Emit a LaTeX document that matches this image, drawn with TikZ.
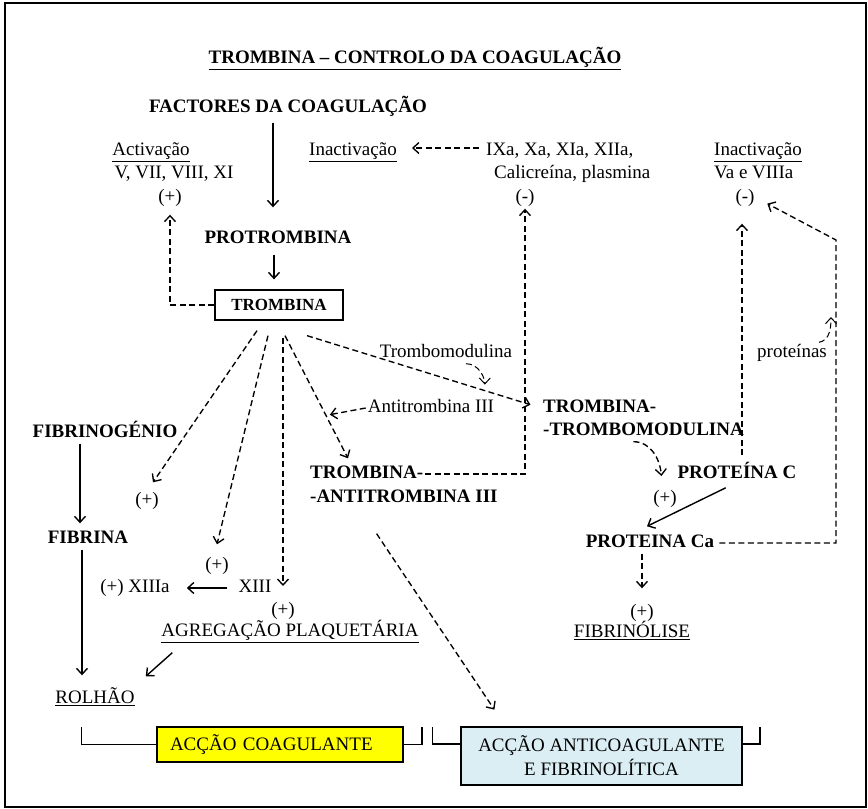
\documentclass[tikz,border=0pt]{standalone}
\usepackage{fontspec}
\setmainfont{Liberation Serif}
\usetikzlibrary{arrows.meta}

\definecolor{coagyel}{RGB}{255,255,0}
\definecolor{antiblue}{RGB}{218,238,243}
\newcommand{\fsz}{\fontsize{19pt}{23pt}\selectfont}

\tikzset{
  txt/.style={inner sep=2pt, text height=13pt, text depth=4pt, font=\fsz},
  hd/.style={txt, font=\fsz\bfseries},
  dline/.style={->, dash pattern=on 6pt off 3.5pt, line width=1.35pt},
  sline/.style={->, line width=1.4pt},
  actbox/.style={draw, line width=1.4pt, inner ysep=0pt, font=\fsz},
}

\begin{document}
\begin{tikzpicture}[x=1pt, y=-1pt, >={Straight Barb[length=6pt,width=11pt]}]
\useasboundingbox (0,0) rectangle (868,809);
\draw[line width=1.2pt] (5,3) rectangle (866,807);

% topo
\node[hd] (title) at (415,59) {\underline{TROMBINA – CONTROLO DA COAGULAÇÃO}};
\node[hd] (fact) at (288,108) {FACTORES DA COAGULAÇÃO};

\node[txt] (actl) at (151,151) {\underline{Activação}};
\node[txt] (actv) at (174,174) {V, VII, VIII, XI};
\node[txt] (actp) at (170,198) {(+)};

\node[txt] (inact1) at (353,151) {\underline{Inactivação}};
\node[txt, anchor=west] (ixa) at (484,151) {IXa, Xa, XIa, XIIa,};
\node[txt, anchor=west] (calic) at (492,174) {Calicreína, plasmina};
\node[txt] (minus1) at (525,198) {(-)};

\node[txt, anchor=west] (inact2) at (712,151) {\underline{Inactivação}};
\node[txt, anchor=west] (vaviii) at (712,174) {Va e VIIIa};
\node[txt] (minus2) at (745,198) {(-)};

\node[hd] (protromb) at (278,239) {PROTROMBINA};
\node[draw, line width=1.3pt, minimum width=128pt, minimum height=30pt, inner sep=0pt,
  font=\fontsize{17pt}{20pt}\selectfont\bfseries] (tromb) at (279,305) {TROMBINA};

% meio
\node[txt] (trombomod) at (446,353) {Trombomodulina};
\node[txt] (antitromb) at (431,408) {Antitrombina III};
\node[txt] (proteinas) at (792,353) {proteínas};

\node[hd, anchor=west] (ttm1) at (541,408) {TROMBINA-};
\node[hd, anchor=west] (ttm2) at (541,431) {-TROMBOMODULINA};
\node[hd, anchor=west] (tat1) at (308,474) {TROMBINA-};
\node[hd, anchor=west] (tat2) at (308,498) {-ANTITROMBINA III};

\node[hd] (fibrinog) at (105,433) {FIBRINOGÉNIO};
\node[txt] (plus1) at (147,501) {(+)};
\node[hd] (fibrina) at (88,539) {FIBRINA};
\node[txt] (plus2) at (217,566) {(+)};
\node[txt] (xiiia) at (135,588) {(+) XIIIa};
\node[txt] (xiii) at (255,588) {XIII};
\node[txt] (plus3) at (283,611) {(+)};
\node[txt] (agreg) at (290,632) {\underline{AGREGAÇÃO PLAQUETÁRIA}};
\node[txt] (rolhao) at (95,699) {\underline{ROLHÃO}};

\node[hd] (protc) at (737,474) {PROTEÍNA C};
\node[txt] (plus4) at (665,499) {(+)};
\node[hd] (protca) at (650,543) {PROTEINA Ca};
\node[txt] (plus5) at (642,613) {(+)};
\node[txt] (fibrinol) at (632,633) {\underline{FIBRINÓLISE}};

% caixas de baixo
\node[actbox, fill=coagyel, minimum width=246pt, minimum height=35pt,
  text width=220pt, inner xsep=13pt, align=left] (coag) at (280,744.5) {ACÇÃO COAGULANTE};
\node[actbox, fill=antiblue, minimum width=281pt, minimum height=58pt, align=center,
  font=\fontsize{19pt}{24pt}\selectfont] (anticoag) at (601.5,756) {ACÇÃO ANTICOAGULANTE\\E FIBRINOLÍTICA};

\coordinate (rtop) at (836,240);
\coordinate (phit) at (831,317);

% setas cheias
\draw[sline, shorten <=4pt, shorten >=21pt] ([xshift=-15pt]fact.south) -- ([xshift=-5pt]protromb.north);
\draw[sline, shorten <=5pt, shorten >=10pt] ([xshift=-4pt]protromb.south) -- ([xshift=-5pt]tromb.north);
\draw[sline, shorten >=5pt] ([xshift=-25pt]fibrinog.south) -- ([xshift=-8pt]fibrina.north);
\draw[sline, shorten >=13pt] ([xshift=-6pt]fibrina.south) -- ([xshift=-13pt]rolhao.north);
\draw[sline, shorten <=9pt, shorten >=15pt] (xiii.west) -- (xiiia.east);
\draw[sline] ([shift={(13,10)}]agreg.south west) -- ([shift={(9,-12)}]rolhao.north east);
\draw[sline, shorten <=7pt] ([xshift=-5pt]protc.south) -- ([xshift=-3pt,yshift=6pt]protca.north);

% setas tracejadas a partir da trombina
\draw[dline, shorten >=6pt] (tromb.west) -| (actp.south);
\draw[dline] ([xshift=-22pt,yshift=-10pt]tromb.south) -- ([shift={(6,-8)}]plus1.north);
\draw[dline] ([xshift=-11pt,yshift=-15pt]tromb.south) -- ([yshift=11pt]plus2.north);
\draw[dline, shorten >=2pt] ([xshift=4pt,yshift=-17pt]tromb.south) -- (plus3.north |- xiii.center);
\draw[dline] ([xshift=6pt,yshift=-15pt]tromb.south) -- ([shift={(40,-5)}]tat1.north west)
  coordinate[pos=0.65] (athit);
\draw[dline, shorten >=11pt] ([xshift=28pt,yshift=-15pt]tromb.south) -- (ttm1.west)
  coordinate[pos=0.76] (tmhit);

\draw[dline, line width=1pt, shorten >=6pt] ([xshift=20pt]trombomod.south) to[out=0,in=90] (tmhit);
\draw[dline, shorten >=4pt] (antitromb.west) -- (athit);

% inactivacoes
\draw[dline, shorten <=5pt, shorten >=13pt] ([yshift=3pt]ixa.west) -- ([yshift=3pt]inact1.east);
\draw[dline] (tat1.east) -| (minus1.south);
\draw[dline, shorten <=8pt, shorten >=15pt] ([xshift=5pt]protc.north) -- ([xshift=-3pt]minus2.south);
\draw[dline, shorten <=3pt, shorten >=12pt] (protca.east) -| (rtop) -- (minus2.east);
\draw[dline, line width=1pt] ([xshift=-10pt]proteinas.north east) to[out=10,in=-90] (phit);

% proteina C
\draw[dline] ([xshift=-10pt]ttm2.south) to[out=0,in=95] ([xshift=-14pt,yshift=-2pt]protc.west);
\draw[dline, shorten >=14pt] (protca.south -| plus5.north) -- (plus5.north);
\draw[dline, shorten <=30pt, shorten >=20pt] ([xshift=-44pt]tat2.south) -- ([xshift=-96pt]anticoag.north);

% chavetas
\draw[line width=1.6pt] (coag.west) -| ++(-75,-18);
\draw[line width=1.6pt] (coag.east) -| ++(18,-18);
\draw[line width=1.6pt] ([yshift=12pt]anticoag.west) -| ++(-28,-17);
\draw[line width=1.6pt] ([yshift=12pt]anticoag.east) -| ++(17,-17);
\end{tikzpicture}
\end{document}
